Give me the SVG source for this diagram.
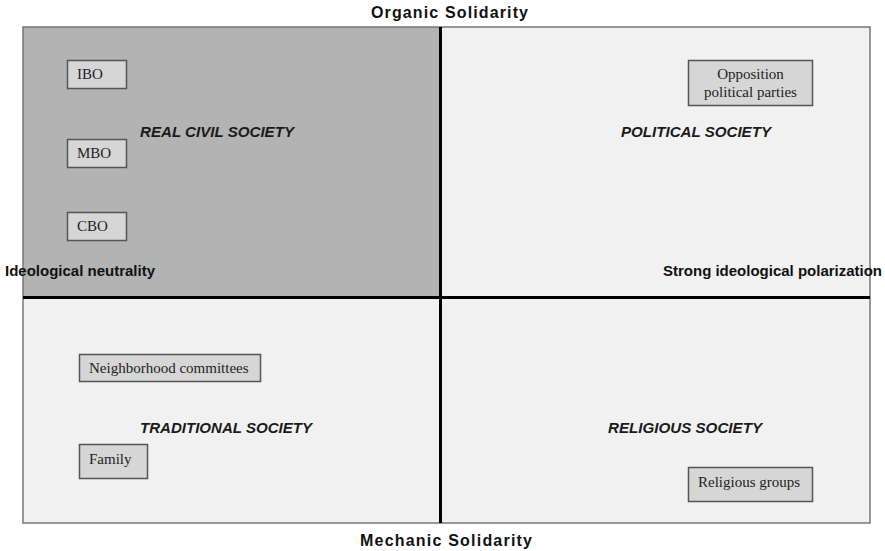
<svg xmlns="http://www.w3.org/2000/svg" width="885" height="551" viewBox="0 0 885 551">
<style>
.axis{font-family:"Liberation Sans",Arial,sans-serif;font-weight:bold;font-size:16px;fill:#111}
.side{font-family:"Liberation Sans",Arial,sans-serif;font-weight:bold;font-size:15px;fill:#111}
.quad{font-family:"Liberation Sans",Arial,sans-serif;font-weight:bold;font-style:italic;font-size:14.5px;fill:#1a1a1a}
.box{fill:#d6d6d6;stroke:#555;stroke-width:1.5}
.lbl{font-family:"Liberation Serif","Times New Roman",serif;font-size:15px;fill:#222}
.div{stroke:#000;stroke-width:3}
</style>
<rect width="885" height="551" fill="#ffffff"/>
<g id="quadrants">
<rect x="23" y="27" width="418" height="270" fill="#b3b3b3"/>
<rect x="441" y="27" width="429" height="270" fill="#f1f1f1"/>
<rect x="23" y="297" width="418" height="226" fill="#f1f1f1"/>
<rect x="441" y="297" width="429" height="226" fill="#f1f1f1"/>
<rect x="23" y="27" width="847" height="496" fill="none" stroke="#777" stroke-width="1.5"/>
</g>
<g id="connectors">
<line class="div" x1="440.5" y1="27" x2="440.5" y2="523"/>
<line class="div" x1="23" y1="297.5" x2="870" y2="297.5"/>
</g>
<g id="axis-labels">
<text class="axis" x="371" y="18" textLength="157" lengthAdjust="spacing">Organic Solidarity</text>
<text class="axis" x="360" y="546" textLength="172" lengthAdjust="spacing">Mechanic Solidarity</text>
<text class="side" x="5" y="276" textLength="150" lengthAdjust="spacing">Ideological neutrality</text>
<text class="side" x="663" y="276" textLength="219" lengthAdjust="spacing">Strong ideological polarization</text>
</g>
<g id="quadrant-titles">
<text class="quad" x="140" y="137" textLength="154" lengthAdjust="spacingAndGlyphs">REAL CIVIL SOCIETY</text>
<text class="quad" x="621" y="137" textLength="150" lengthAdjust="spacingAndGlyphs">POLITICAL SOCIETY</text>
<text class="quad" x="140" y="433" textLength="172" lengthAdjust="spacingAndGlyphs">TRADITIONAL SOCIETY</text>
<text class="quad" x="608" y="433" textLength="154" lengthAdjust="spacingAndGlyphs">RELIGIOUS SOCIETY</text>
</g>
<g id="node-ibo">
<rect class="box" x="67.5" y="60.5" width="59" height="28"/>
<text class="lbl" x="77" y="79">IBO</text>
</g>
<g id="node-mbo">
<rect class="box" x="67.5" y="139.5" width="59" height="28"/>
<text class="lbl" x="77" y="158">MBO</text>
</g>
<g id="node-cbo">
<rect class="box" x="67.5" y="212.5" width="59" height="28"/>
<text class="lbl" x="77" y="231">CBO</text>
</g>
<g id="node-opposition">
<rect class="box" x="688.5" y="60.5" width="124" height="45"/>
<text class="lbl" x="750.5" y="79" text-anchor="middle">Opposition</text>
<text class="lbl" x="750.5" y="97" text-anchor="middle">political parties</text>
</g>
<g id="node-neighborhood">
<rect class="box" x="79.5" y="354.5" width="181" height="27"/>
<text class="lbl" x="89" y="373">Neighborhood committees</text>
</g>
<g id="node-family">
<rect class="box" x="79.5" y="444.5" width="68" height="34"/>
<text class="lbl" x="89" y="464">Family</text>
</g>
<g id="node-religious">
<rect class="box" x="688.5" y="467.5" width="124" height="34"/>
<text class="lbl" x="698" y="487">Religious groups</text>
</g>
</svg>
